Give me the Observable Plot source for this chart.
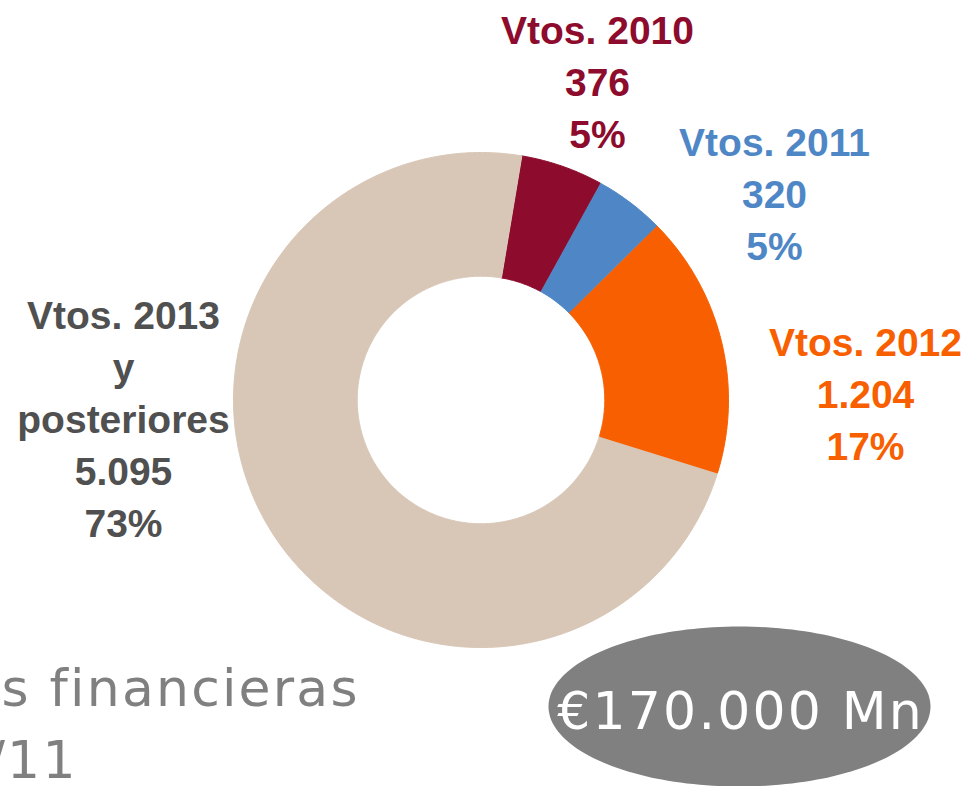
<!DOCTYPE html>
<html><head><meta charset="utf-8">
<script src="https://cdn.jsdelivr.net/npm/d3@7"></script>
<script src="https://cdn.jsdelivr.net/npm/@observablehq/plot@0.6"></script>
<style>html,body{margin:0;padding:0;background:#fff;overflow:hidden}</style>
</head><body><div id="chart"></div>
<script>
// ---- data ----
const categories = ["Vtos. 2010", "Vtos. 2011", "Vtos. 2012", "Vtos. 2013\ny\nposteriores"];
const values = [376, 320, 1204, 5095];
const valueLabels = ["376", "320", "1.204", "5.095"];
const pctLabels = ["5%", "5%", "17%", "73%"];
const sliceColors = ["#8d0b2c", "#4f87c6", "#f85f00", "#d8c7b7"];
const labelColors = ["#8d0b2c", "#4f87c6", "#f85f00", "#505050"];
const totalLabel = "€170.000 Mn";
const subtitleLines = ["s financieras", "/11"];

// ---- layout (pixels) ----
const W = 968, H = 786;
const CX = 480.5, CY = 399.5, R = 247.5, innerRatio = 0.5;
const startDeg = 9.5;
const LS = 2.2; // letter spacing of the light grey texts
const labelPos = [[597, 79], [774, 191], [865, 391], [123, 416]];
const subPos = [[357 + LS, 705], [75 + LS, 777]];
const ell = {cx: 739, cy: 706, rx: 191, ry: 80};

const toX = px => (px - CX) / R;
const toY = py => (CY - py) / R;

// pie geometry from values
const pie = d3.pie().sort(null).value(d => d.value)
  .startAngle(startDeg * Math.PI / 180)
  .endAngle(startDeg * Math.PI / 180 + 2 * Math.PI);
const arcs = pie(values.map((v, i) => ({value: v, i})));
const slicePts = [];
arcs.forEach(a => {
  const n = Math.max(8, Math.ceil((a.endAngle - a.startAngle) / 0.01));
  const key = categories[a.data.i];
  const color = sliceColors[a.data.i];
  for (let k = 0; k <= n; k++) {
    const t = a.startAngle + (a.endAngle - a.startAngle) * k / n;
    slicePts.push({key, color, x: Math.sin(t), y: Math.cos(t)});
  }
  for (let k = n; k >= 0; k--) {
    const t = a.startAngle + (a.endAngle - a.startAngle) * k / n;
    slicePts.push({key, color, x: innerRatio * Math.sin(t), y: innerRatio * Math.cos(t)});
  }
});

const labels = categories.map((c, i) => ({
  text: `${c}\n${valueLabels[i]}\n${pctLabels[i]}`,
  color: labelColors[i],
  x: toX(labelPos[i][0]), y: toY(labelPos[i][1])
}));

const ellPts = d3.range(0, 361, 2).map(d => {
  const t = d * Math.PI / 180;
  return {x: toX(ell.cx + ell.rx * Math.cos(t)), y: toY(ell.cy + ell.ry * Math.sin(t))};
});

const subs = subtitleLines.map((s, i) => ({text: s, x: toX(subPos[i][0]), y: toY(subPos[i][1])}));

const plot = Plot.plot({
  width: W, height: H,
  margin: 0,
  x: {axis: null, domain: [toX(0), toX(W)]},
  y: {axis: null, domain: [toY(H), toY(0)]},
  color: {type: "identity"},
  style: {background: "#fff"},
  marks: [
    Plot.line(slicePts, {x: "x", y: "y", z: "key", fill: "color", stroke: "color", strokeWidth: 1, curve: "linear"}),
    Plot.text(labels, {x: "x", y: "y", text: "text", fill: "color", fontSize: 39, fontWeight: "bold",
      fontFamily: "Liberation Sans, Arial, sans-serif", lineHeight: 1.333, lineAnchor: "middle", textAnchor: "middle"}),
    Plot.line(ellPts, {x: "x", y: "y", fill: "#808080", stroke: "none", curve: "linear"}),
    Plot.text([totalLabel], {x: toX(ell.cx + LS / 2), y: toY(728), text: d => d, fill: "#fff", fontSize: 52,
      fontFamily: "DejaVu Sans, sans-serif", lineAnchor: "bottom", textAnchor: "middle"}),
    Plot.text(subs, {x: "x", y: "y", text: "text", fill: "#808080", fontSize: 52,
      fontFamily: "DejaVu Sans, sans-serif", lineAnchor: "bottom", textAnchor: "end"})
  ]
});
const spaced = new Set([totalLabel, ...subtitleLines]);
d3.select(plot).selectAll("text")
  .filter(function() { return spaced.has(this.textContent); })
  .style("letter-spacing", LS + "px")
  .style("font-variant-ligatures", "none");
document.getElementById("chart").appendChild(plot);
</script>
</body></html>
